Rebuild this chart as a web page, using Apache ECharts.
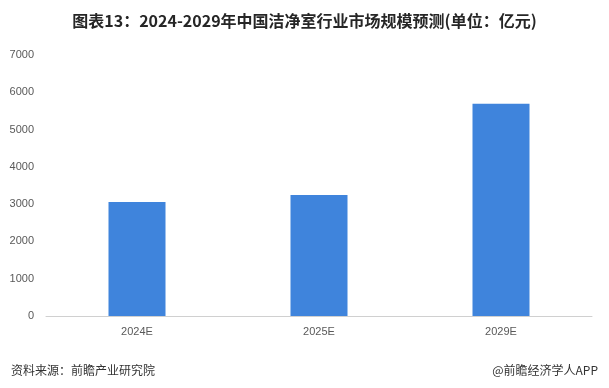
<!DOCTYPE html>
<html><head><meta charset="utf-8">
<script src="https://cdn.jsdelivr.net/npm/echarts@6/dist/echarts.min.js"></script>
<style>html,body{margin:0;padding:0;background:#fff}#c{width:609px;height:388px}</style>
</head><body><div id="c"></div>
<script>
var categories = ['2024E', '2025E', '2029E'];
var values = [3060, 3245, 5690];
var yTicks = [0, 1000, 2000, 3000, 4000, 5000, 6000, 7000];

var chart = echarts.init(document.getElementById('c'));
chart.setOption({
  animation: false,
  title: [{
    text: '图表13：2024-2029年中国洁净室行业市场规模预测(单位：亿元)',
    left: 'center', top: 8,
    textStyle: {fontSize: 16, fontWeight: 'bold', color: '#262626', fontFamily: 'Noto Sans CJK SC'}
  }, {
    text: '资料来源：前瞻产业研究院',
    left: 6, top: 359,
    textStyle: {fontSize: 12, fontWeight: 'normal', color: '#333', fontFamily: 'Noto Sans CJK SC'}
  }, {
    text: '@前瞻经济学人APP',
    right: 6, top: 359,
    textStyle: {fontSize: 12, fontWeight: 'normal', color: '#333', fontFamily: 'Noto Sans CJK SC'}
  }],
  grid: {left: 46, right: 17, top: 55, bottom: 72, containLabel: false},
  xAxis: {
    type: 'category', data: categories,
    axisLine: {lineStyle: {color: '#d0d0d0'}},
    axisTick: {show: false},
    axisLabel: {color: '#595959', fontSize: 11, margin: 10, fontFamily: 'Liberation Sans'}
  },
  yAxis: {
    type: 'value', min: yTicks[0], max: yTicks[yTicks.length - 1], interval: 1000,
    axisLine: {show: false}, axisTick: {show: false},
    splitLine: {show: false},
    axisLabel: {color: '#595959', fontSize: 11, margin: 12, fontFamily: 'Liberation Sans',
      formatter: function (v) { return String(v); }}
  },
  series: [{
    type: 'bar', data: values, barWidth: 57,
    itemStyle: {color: '#3f84dc'}
  }]
});
</script></body></html>
